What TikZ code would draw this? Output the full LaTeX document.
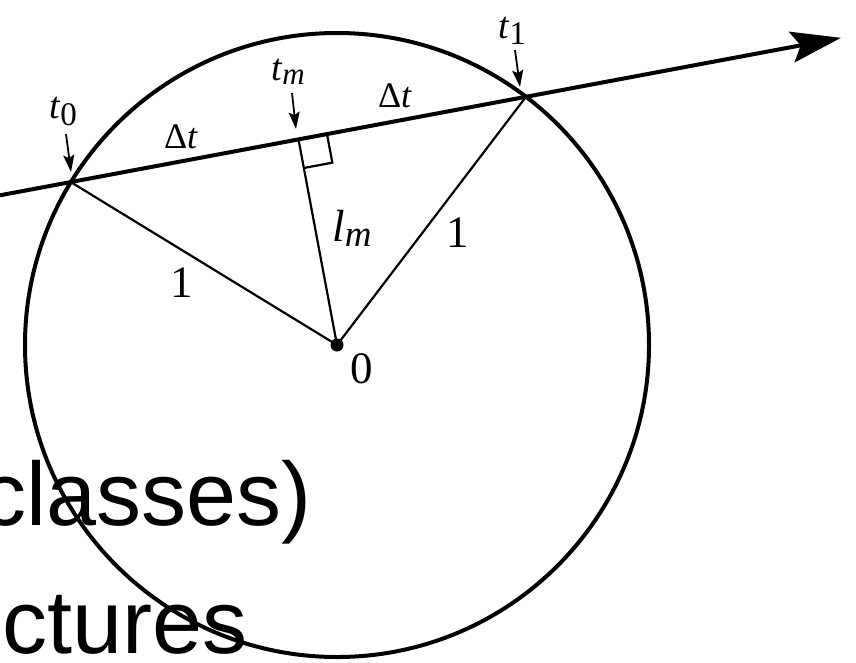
\documentclass[tikz,border=0pt]{standalone}
\usepackage{fontspec}
\setmainfont{Liberation Serif}
\newfontfamily\arialfont{Liberation Sans}
\usetikzlibrary{arrows.meta,calc}
\newcommand\myLabT{\fontsize{38}{38}\selectfont}
\newcommand\myLabS{\fontsize{33}{33}\selectfont}
\newcommand\myLabM{\fontsize{31}{31}\selectfont}
\newcommand\myBig{\fontsize{45}{45}\selectfont}
\newcommand\myBigS{\fontsize{37}{37}\selectfont}
\newcommand\myDelta{\fontsize{36}{36}\selectfont}
\tikzset{
  heavyline/.style={line width=4pt},
  thinline/.style={line width=2.2pt},
  lblarrow/.style={line width=1.8pt,-{Stealth[length=17pt,width=11pt,inset=3pt]}},
  lbl/.style={inner sep=0pt,anchor=center},
  bgtext/.style={inner sep=0pt,font=\arialfont\fontsize{90}{90}\selectfont}
}
\begin{document}
\begin{tikzpicture}[x=1pt,y=-1pt]
\useasboundingbox (0,0) rectangle (856,662);
% background slide text
\node[bgtext,anchor=base east] (cls) at (312,525) {classes)};
\node[bgtext,anchor=base west] (ctr) at (2,653) {ctures};
% geometry
\coordinate (O) at (337,345);
\coordinate (t0) at (71,182.2);
\coordinate (t1) at (526,96.8);
\coordinate (F) at (298.5,139.5);
\coordinate (L) at (0,195.3);
\coordinate (R) at (841,37.8);
\draw[heavyline] (O) circle[radius=312pt];
\draw[heavyline,-{Stealth[length=50pt,width=31pt,inset=9pt]}] (L) -- (R);
\draw[thinline] (t0) -- (O) -- (t1);
\draw[thinline] (F) -- (O);
\coordinate (A) at ($(F)!29pt!(t1)$);
\coordinate (B) at ($(F)!29pt!(O)$);
\draw[thinline] (A) -- ($(A)+(B)-(F)$) -- (B);
\node[circle,fill,inner sep=0pt,minimum size=13pt] (dot) at (O) {};
% label arrows
\coordinate (a0s) at (66,134); \coordinate (a0e) at (71,172);
\coordinate (ams) at (292,93); \coordinate (ame) at (296,129);
\coordinate (a1s) at (515,50); \coordinate (a1e) at (520,87);
\draw[lblarrow] (a0s) -- (a0e);
\draw[lblarrow] (ams) -- (ame);
\draw[lblarrow] (a1s) -- (a1e);
% labels
\node[lbl] (lt0) at (63,111) {\myLabT\textit{t}\raisebox{-7pt}{\myLabS 0}};
\node[lbl] (ltm) at (288,72) {\myLabT\textit{t}\raisebox{-4pt}{\myLabM\textit{m}}};
\node[lbl] (lt1) at (512,31) {\myLabT\textit{t}\raisebox{-6pt}{\myLabS 1}};
\node[lbl] (ldl) at (181,137) {\myDelta Δ\textit{t}};
\node[lbl] (ldr) at (395,96) {\myDelta Δ\textit{t}};
\node[lbl] (lone1) at (182,283) {\myBig 1};
\node[lbl] (lone2) at (458,233) {\myBig 1};
\node[lbl] (llm) at (352,228) {\myBig\textit{l}\raisebox{-5pt}{\myBigS\textit{m}}};
\node[lbl] (lzero) at (362,369) {\myBig 0};
\end{tikzpicture}
\end{document}
